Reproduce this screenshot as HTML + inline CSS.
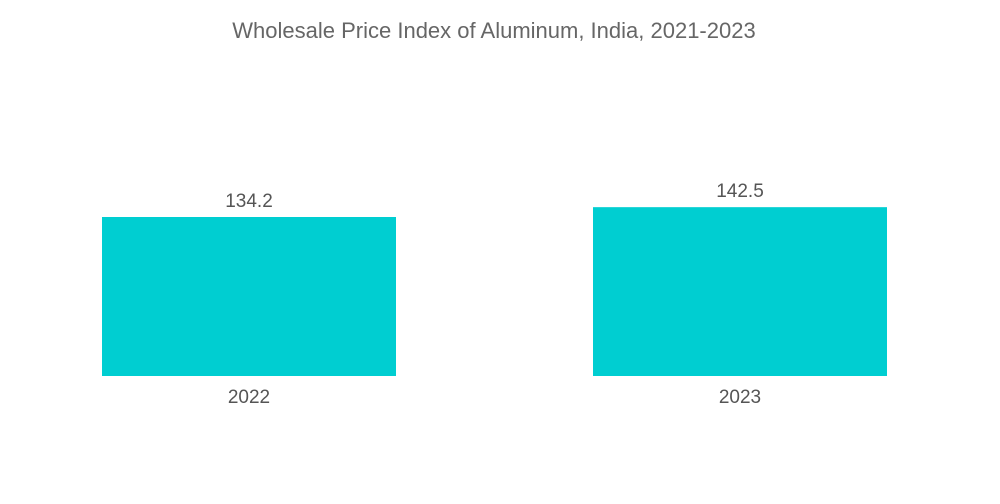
<!DOCTYPE html>
<html><head><meta charset="utf-8"><style>
html,body{margin:0;padding:0;background:#fff;width:1000px;height:504px;overflow:hidden;}
text{font-family:"Liberation Sans",sans-serif;}
</style></head><body>
<svg id="chart" width="1000" height="504" xmlns="http://www.w3.org/2000/svg">
<text x="494" y="38" text-anchor="middle" font-size="22" fill="#666">Wholesale Price Index of Aluminum, India, 2021-2023</text>
<g id="bars"></g>
</svg>
<script>
const categories = ["2022", "2023"];
const values = [134.2, 142.5];
const labels = ["134.2", "142.5"];
const baseY = 376, scale = 159 / 134.2;
const xStart = [102, 593], barW = 294;
function yOf(v){ return baseY - v * scale; }
const g = document.getElementById('bars');
const ns = "http://www.w3.org/2000/svg";
categories.forEach((c, i) => {
  const x = 102 + i * 491;
  const r = document.createElementNS(ns, 'rect');
  r.setAttribute('x', x); r.setAttribute('y', yOf(values[i]));
  r.setAttribute('width', barW); r.setAttribute('height', baseY - yOf(values[i]));
  r.setAttribute('fill', '#00ced1');
  
  
  g.appendChild(r);
  const t = document.createElementNS(ns, 'text');
  t.setAttribute('x', x + barW / 2); t.setAttribute('y', yOf(values[i]) - 10);
  t.setAttribute('text-anchor', 'middle'); t.setAttribute('font-size', '19'); t.setAttribute('fill', '#555');
  t.textContent = labels[i];
  
  
  g.appendChild(t);
  const a = document.createElementNS(ns, 'text');
  a.setAttribute('x', x + barW / 2); a.setAttribute('y', baseY + 27);
  a.setAttribute('text-anchor', 'middle'); a.setAttribute('font-size', '19'); a.setAttribute('fill', '#555');
  a.textContent = c;
  
  
  g.appendChild(a);
});
</script>
</body></html>
